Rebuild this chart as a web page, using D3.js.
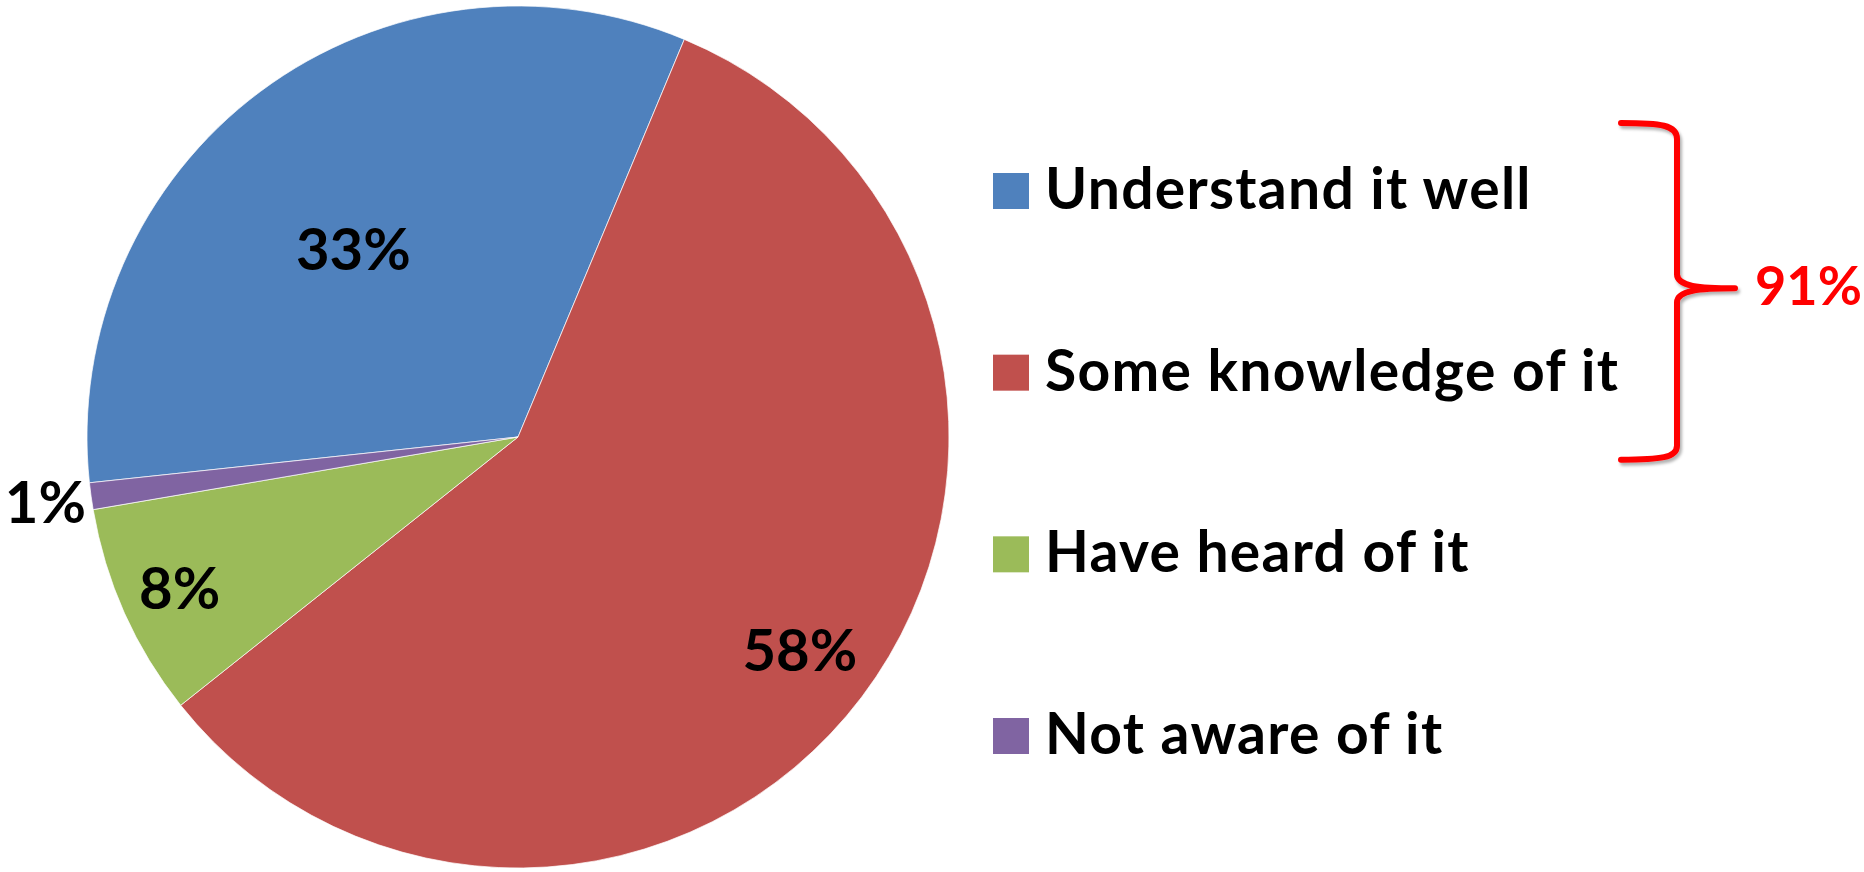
<!DOCTYPE html>
<html>
<head>
<meta charset="utf-8">
<script src="https://cdn.jsdelivr.net/npm/d3@7"></script>
<style>
  html, body { margin: 0; padding: 0; background: #fff; }
  svg { display: block; }
  text { font-family: Lato, "Open Sans", sans-serif; font-weight: 700; }
</style>
</head>
<body>
<div id="chart"></div>
<script>
// data
const categories = ['Understand it well', 'Some knowledge of it', 'Have heard of it', 'Not aware of it'];
const values = [33, 58, 8, 1];
const colors = ['#4F81BD', '#C0504D', '#9BBB59', '#8064A2'];
const groupedCategories = ['Understand it well', 'Some knowledge of it'];

const width = 1864, height = 872;
const cx = 518, cy = 437, radius = 431;
// where each percentage label sits: fraction of the radius, and a nudge off the mid angle (deg)
const labelRadius = [0.58, 0.82, 0.86, 1.107];
const labelNudge = [-4.5, 0, 0, 0];

const svg = d3.select('#chart')
  .append('svg')
  .attr('width', width)
  .attr('height', height)
  .attr('viewBox', `0 0 ${width} ${height}`);

const defs = svg.append('defs');
defs.append('filter')
  .attr('id', 'shadow')
  .attr('x', '-20%').attr('y', '-20%').attr('width', '140%').attr('height', '140%')
  .append('feDropShadow')
  .attr('dx', 2).attr('dy', 3).attr('stdDeviation', 1.5)
  .attr('flood-color', '#000').attr('flood-opacity', 0.3);

const start = -96.1 * Math.PI / 180;
const pie = d3.pie().sort(null).startAngle(start).endAngle(start + 2 * Math.PI);
const arcs = pie(values);
const arc = d3.arc().innerRadius(0).outerRadius(radius);

const g = svg.append('g').attr('transform', `translate(${cx},${cy})`);

g.selectAll('path')
  .data(arcs)
  .join('path')
  .attr('d', arc)
  .attr('fill', (d, i) => colors[i])
  .attr('stroke', '#fff')
  .attr('stroke-width', 0.7);

g.selectAll('text.pct')
  .data(arcs)
  .join('text')
  .attr('class', 'pct')
  .attr('transform', (d, i) => {
    const r = radius * labelRadius[i];
    const a = (d.startAngle + d.endAngle) / 2 + labelNudge[i] * Math.PI / 180;
    return `translate(${Math.sin(a) * r},${-Math.cos(a) * r})`;
  })
  .attr('text-anchor', 'middle')
  .attr('dy', '0.36em')
  .attr('font-size', 58)
  .attr('fill', '#000')
  .text(d => d3.format('.0%')(d.value / d3.sum(values)));

// legend
const legendY = d3.scalePoint().domain(categories).range([191, 736]);
const legend = svg.append('g').attr('class', 'legend');
const rows = legend.selectAll('g')
  .data(categories)
  .join('g')
  .attr('transform', d => `translate(993,${legendY(d)})`);

rows.append('rect')
  .attr('x', 0).attr('y', -18)
  .attr('width', 36).attr('height', 36)
  .attr('fill', (d, i) => colors[i]);

rows.append('text')
  .attr('x', 52)
  .attr('y', 18)
  .attr('font-size', 57)
  .attr('letter-spacing', 1.3)
  .attr('fill', '#000')
  .text(d => d);

// brace around the first two legend rows
const braceTop = legendY(groupedCategories[0]) - 68;
const braceBottom = legendY(groupedCategories[1]) + 87;
const mid = (braceTop + braceBottom) / 2 - 3;
const xl = 1621, xv = 1677, xt = 1735;

const brace = d3.path();
brace.moveTo(xl, braceTop);
brace.bezierCurveTo(xl + 40, braceTop, xv, braceTop + 2, xv, braceTop + 16);
brace.lineTo(xv, mid - 14);
brace.bezierCurveTo(xv, mid - 2, xv + 22, mid, xt, mid);
brace.bezierCurveTo(xv + 22, mid, xv, mid + 2, xv, mid + 14);
brace.lineTo(xv, braceBottom - 14);
brace.bezierCurveTo(xv, braceBottom - 2, xl + 40, braceBottom, xl, braceBottom);

svg.append('path')
  .attr('d', brace.toString())
  .attr('fill', 'none')
  .attr('stroke', '#FF0000')
  .attr('stroke-width', 6)
  .attr('stroke-linecap', 'round')
  .attr('stroke-linejoin', 'round')
  .attr('filter', 'url(#shadow)');

const groupShare = d3.sum(groupedCategories, c => values[categories.indexOf(c)]) / d3.sum(values);
svg.append('text')
  .attr('x', 1755)
  .attr('y', mid + 17)
  .attr('font-size', 54)
  .attr('fill', '#FF0000')
  .text(d3.format('.0%')(groupShare));
</script>
</body>
</html>
